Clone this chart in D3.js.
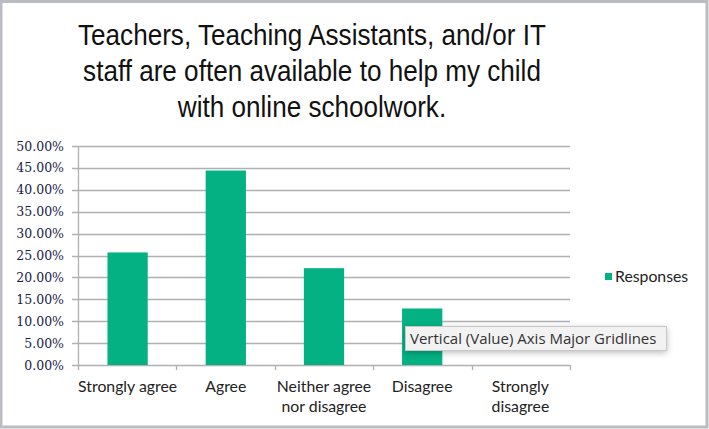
<!DOCTYPE html>
<html>
<head>
<meta charset="utf-8">
<script src="https://cdn.jsdelivr.net/npm/d3@7"></script>
<style>
body { margin: 0; background: #fff; }
</style>
</head>
<body>
<div id="chart"></div>
<script>
var categories = [["Strongly agree"], ["Agree"], ["Neither agree", "nor disagree"], ["Disagree"], ["Strongly", "disagree"]];
var values = [25.7, 44.4, 22.1, 12.9, 0];
var yTicks = [0, 5, 10, 15, 20, 25, 30, 35, 40, 45, 50];
var titleLines = ["Teachers, Teaching Assistants, and/or IT", "staff are often available to help my child", "with online schoolwork."];
var seriesName = "Responses";
var tipText = "Vertical (Value) Axis Major Gridlines";

var width = 709, height = 429;
var svg = d3.select("#chart").append("svg")
    .attr("width", width)
    .attr("height", height);

// outer frame
svg.append("rect")
    .attr("x", 1).attr("y", 1.5)
    .attr("width", width - 3).attr("height", height - 3.5)
    .attr("fill", "#fff")
    .attr("stroke", "#b9bdc1")
    .attr("stroke-width", 3);

// title, a bit condensed like the original
svg.append("g")
    .attr("transform", "translate(312,0) scale(0.9,1)")
    .selectAll("text").data(titleLines).enter().append("text")
    .attr("x", 0)
    .attr("y", (d, i) => 45 + i * 36)
    .attr("text-anchor", "middle")
    .attr("font-family", "Liberation Sans, Arial, sans-serif")
    .attr("font-size", 29)
    .attr("fill", "#111")
    .text(d => d);

var x = d3.scaleBand()
    .domain(d3.range(categories.length))
    .range([78, 570])
    .paddingInner(0.59)
    .paddingOuter(0.3);
var y = d3.scaleLinear()
    .domain([0, 50])
    .range([365, 146]);

// gridlines
svg.append("g").selectAll("line").data(yTicks).enter().append("line")
    .attr("x1", 72).attr("x2", 570)
    .attr("y1", d => Math.round(y(d)) + 0.5)
    .attr("y2", d => Math.round(y(d)) + 0.5)
    .attr("stroke", "#aeb0b3")
    .attr("stroke-width", 1.3);

svg.append("line")
    .attr("x1", 78.5).attr("x2", 78.5)
    .attr("y1", y(50)).attr("y2", y(0))
    .attr("stroke", "#aeb0b3").attr("stroke-width", 1.3);

svg.append("g").selectAll("text").data(yTicks).enter().append("text")
    .attr("x", 64)
    .attr("y", d => y(d) + 4.5)
    .attr("text-anchor", "end")
    .attr("font-family", "DejaVu Serif, serif")
    .attr("font-size", 12.5)
    .attr("fill", "#1a1d48")
    .text(d => d.toFixed(2) + "%");

// category axis
var bounds = d3.range(categories.length + 1).map(i => 78 + i * (492 / categories.length));
svg.append("g").selectAll("line").data(bounds).enter().append("line")
    .attr("x1", d => Math.round(d) + 0.5).attr("x2", d => Math.round(d) + 0.5)
    .attr("y1", 365).attr("y2", 370)
    .attr("stroke", "#aeb0b3").attr("stroke-width", 1.3);

svg.append("g").selectAll("rect").data(values).enter().append("rect")
    .attr("x", (d, i) => x(i))
    .attr("y", d => y(d))
    .attr("width", x.bandwidth())
    .attr("height", d => y(0) - y(d))
    .attr("fill", "#03b183");

var cat = svg.append("g").selectAll("text").data(categories).enter().append("text")
    .attr("text-anchor", "middle")
    .attr("font-family", "Lato, Open Sans, sans-serif")
    .attr("font-size", 15.8)
    .attr("fill", "#222");
cat.selectAll("tspan").data((d, i) => d.map(t => [t, i])).enter().append("tspan")
    .attr("x", d => x(d[1]) + x.bandwidth() / 2)
    .attr("y", (d, j) => 392 + j * 20)
    .text(d => d[0]);

// legend
svg.append("rect")
    .attr("x", 605).attr("y", 273)
    .attr("width", 7).attr("height", 7)
    .attr("fill", "#03b183");
svg.append("text")
    .attr("x", 615).attr("y", 282)
    .attr("font-family", "Lato, Open Sans, sans-serif")
    .attr("font-size", 15.8)
    .attr("fill", "#222")
    .text(seriesName);

// tooltip
var defs = svg.append("defs");
var f = defs.append("filter").attr("id", "sh").attr("x", "-10%").attr("y", "-50%").attr("width", "120%").attr("height", "220%");
f.append("feDropShadow").attr("dx", 0).attr("dy", 2).attr("stdDeviation", 3).attr("flood-opacity", 0.25);
svg.append("rect")
    .attr("x", 405.5).attr("y", 326.5)
    .attr("width", 261).attr("height", 24)
    .attr("fill", "#f2f2f2")
    .attr("stroke", "#c8c8c8")
    .attr("filter", "url(#sh)");
svg.append("text")
    .attr("x", 410).attr("y", 344)
    .attr("font-family", "Open Sans, sans-serif")
    .attr("font-size", 15)
    .attr("fill", "#333")
    .text(tipText);
</script>
</body>
</html>
